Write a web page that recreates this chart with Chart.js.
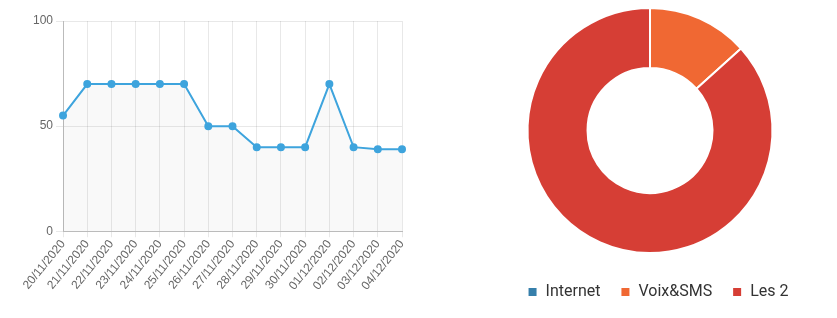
<!DOCTYPE html>
<html>
<head>
<meta charset="utf-8">
<script src="https://cdn.jsdelivr.net/npm/chart.js@4"></script>
<style>
html,body{margin:0;padding:0;background:#fff;}
#wrapL{position:absolute;left:0;top:0;width:415px;height:318px;}
#wrapR{position:absolute;left:467px;top:0;width:366px;height:318px;}
</style>
</head>
<body>
<div id="wrapL"><canvas id="chartLine"></canvas></div>
<div id="wrapR"><canvas id="chartPie"></canvas></div>
<script>
// ===== DATA =====
const days=['20/11/2020','21/11/2020','22/11/2020','23/11/2020','24/11/2020','25/11/2020','26/11/2020','27/11/2020','28/11/2020','29/11/2020','30/11/2020','01/12/2020','02/12/2020','03/12/2020','04/12/2020'];
const dayValues=[55,70,70,70,70,70,50,50,40,40,40,70,40,39,39];
const yTicks=[0,50,100];
const offerLabels=['Internet','Voix&SMS','Les 2'];
const offerValues=[0,2,13];
const offerColors=['#367fab','#f06833','#d63e35'];

// ===== DEFAULTS =====
Chart.defaults.font.family="'Liberation Sans',Arial,sans-serif";
Chart.defaults.color='#666';
Chart.defaults.animation=false;
const BLUE='#3ea4dd';

// nudge the legend a bit lower / right, like the original
const legendShift={id:'legendShift',afterLayout(chart,args,opts){
  const l=chart.legend;if(!l)return;
  l.top+=opts.dy;l.bottom+=opts.dy;l.left+=opts.dx;l.right+=opts.dx;
}};

new Chart(document.getElementById('chartLine'),{type:'line',
  data:{labels:days,datasets:[
    {data:dayValues,borderColor:BLUE,backgroundColor:'rgba(0,0,0,0.025)',fill:'origin',tension:0,borderWidth:2,pointRadius:3,pointBackgroundColor:BLUE,pointBorderColor:BLUE}
  ]},
  options:{responsive:true,maintainAspectRatio:false,
    layout:{padding:{left:30,right:13,top:21,bottom:25}},
    plugins:{legend:{display:false},tooltip:{enabled:false}},
    scales:{
      y:{min:0,max:100,afterBuildTicks:a=>{a.ticks=yTicks.map(v=>({value:v}));},
        grid:{color:'rgba(0,0,0,0.09)',tickLength:7},border:{color:'#bbb'},
        ticks:{font:{size:12},padding:3}},
      x:{grid:{color:'rgba(0,0,0,0.09)',tickLength:6},border:{color:'#bbb'},
        ticks:{font:{size:12},minRotation:51,maxRotation:51,autoSkip:false,padding:0}}
    }}});

new Chart(document.getElementById('chartPie'),{type:'doughnut',
  data:{labels:offerLabels,datasets:[{data:offerValues,backgroundColor:offerColors,borderColor:'#fff',borderWidth:2}]},
  options:{responsive:true,maintainAspectRatio:false,cutout:'51%',
    layout:{padding:{top:7,bottom:18}},
    plugins:{tooltip:{enabled:false},legendShift:{dx:8,dy:10},
      legend:{position:'bottom',labels:{boxWidth:10,boxHeight:10,padding:20,color:'#333',font:{family:'Roboto',size:16}}}}},
  plugins:[legendShift]});
</script>
</body>
</html>
